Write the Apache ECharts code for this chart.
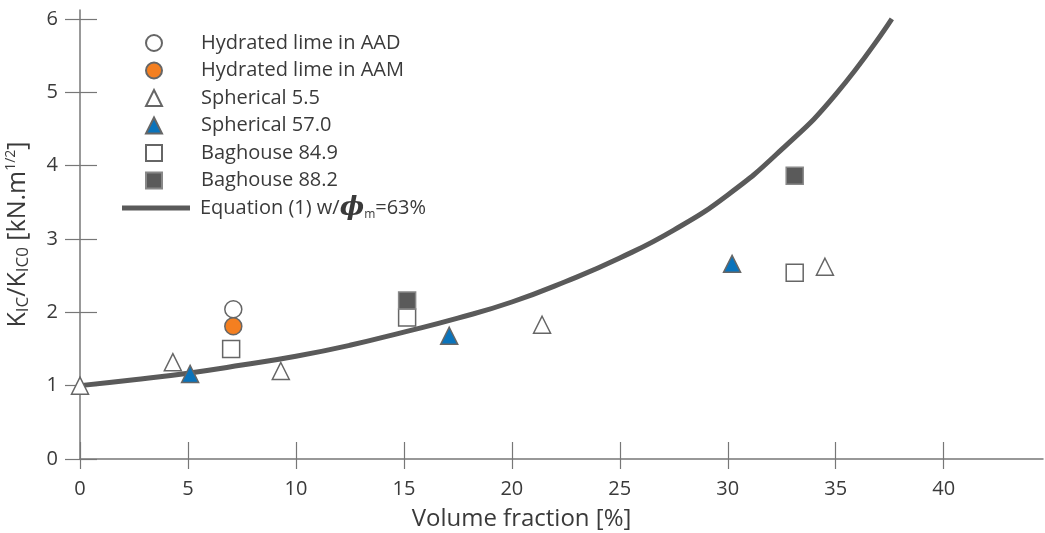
<!DOCTYPE html>
<html>
<head>
<meta charset="utf-8">
<script src="https://cdn.jsdelivr.net/npm/echarts@6/dist/echarts.min.js"></script>
<style>html,body{margin:0;padding:0;background:#fff;}#c{width:1045px;height:533px;}</style>
</head>
<body>
<div id="c"></div>
<script>
// Data: [volume fraction %, KIC/KIC0]
const limeAAD = [[7.1, 2.04]];
const limeAAM = [[7.1, 1.81]];
const spherical55 = [[0, 1.0], [4.3, 1.32], [9.3, 1.2], [21.4, 1.83], [34.5, 2.62]];
const spherical570 = [[5.1, 1.16], [17.1, 1.68], [30.2, 2.66]];
const baghouse849 = [[7.0, 1.5], [15.15, 1.93], [33.1, 2.54]];
const baghouse882 = [[15.15, 2.16], [33.1, 3.86]];
const equationCurve = [[0, 1.0], [2.5, 1.08], [5, 1.17], [7.5, 1.28], [10, 1.40], [12.5, 1.55],
  [15, 1.73], [17.5, 1.92], [20, 2.14], [22.5, 2.42], [25, 2.74], [27.5, 3.12], [30, 3.6],
  [32.5, 4.22], [35, 4.97], [37.6, 6.0]];
const xTicks = [0, 5, 10, 15, 20, 25, 30, 35, 40];
const yTicks = [0, 1, 2, 3, 4, 5, 6];

const FONT = '"Open Sans", "Noto Sans", sans-serif';
const TXT = '#3a3a3a';
const AX = '#777';
const GREY = '#666';

const chart = echarts.init(document.getElementById('c'), null, {renderer: 'canvas'});

function scatter(name, data, symbol, fill, border) {
  return {
    name, type: 'scatter', data, symbol, symbolSize: 17,
    xAxisIndex: 0, yAxisIndex: 0, z: 5,
    itemStyle: {color: fill, borderColor: border, borderWidth: 1.5, opacity: 1},
    emphasis: {disabled: true}
  };
}

const option = {
  animation: false,
  textStyle: {fontFamily: FONT},
  grid: {left: 80, right: 2, top: 10, bottom: 74, containLabel: false, outerBoundsMode: 'none'},
  xAxis: [{
    type: 'value', min: 0, max: 44.6,
    name: 'Volume fraction [%]', nameLocation: 'middle', nameGap: 48,
    nameTextStyle: {fontSize: 24, color: TXT, fontFamily: FONT, padding: [0, 80, 0, 0]},
    axisLine: {show: true, onZero: false, lineStyle: {color: AX, width: 1.5}},
    axisTick: {show: true, inside: false, length: 10, customValues: xTicks, lineStyle: {color: AX, width: 1.2}},
    axisLabel: {fontSize: 20, color: TXT, margin: 20, fontFamily: FONT, customValues: xTicks},
    splitLine: {show: false}
  }, {
    type: 'value', min: 0, max: 44.6, position: 'bottom',
    axisLine: {show: false}, axisLabel: {show: false}, splitLine: {show: false},
    axisTick: {show: true, inside: true, length: 17, customValues: xTicks, lineStyle: {color: AX, width: 1.2}}
  }],
  yAxis: [{
    type: 'value', min: 0, max: 6.12,
    name: '{b|K}{s|IC}{b|/K}{s|IC0}{b| [kN.m}{p|1/2}{b|]}',
    nameLocation: 'middle', nameGap: 48, nameRotate: 90,
    nameTextStyle: {
      color: TXT, fontFamily: FONT,
      rich: {
        b: {fontSize: 25, color: TXT, fontFamily: FONT, lineHeight: 28},
        s: {fontSize: 17, color: TXT, fontFamily: FONT, lineHeight: 17, verticalAlign: 'bottom'},
        p: {fontSize: 14, color: TXT, fontFamily: FONT, lineHeight: 14, verticalAlign: 'top'}
      }
    },
    axisLine: {show: true, onZero: false, lineStyle: {color: AX, width: 1.5}},
    axisTick: {show: true, inside: false, length: 15, customValues: yTicks, lineStyle: {color: AX, width: 1.2}},
    axisLabel: {fontSize: 20, color: TXT, margin: 22, fontFamily: FONT, customValues: yTicks},
    splitLine: {show: false}
  }, {
    type: 'value', min: 0, max: 6.12, position: 'left',
    axisLine: {show: false}, axisLabel: {show: false}, splitLine: {show: false},
    axisTick: {show: true, inside: true, length: 17, customValues: yTicks, lineStyle: {color: AX, width: 1.2}}
  }],
  legend: [{
    orient: 'vertical', left: 145, top: 33, padding: 0, itemWidth: 16, itemHeight: 16, itemGap: 7.5,
    selectedMode: false,
    data: ['Hydrated lime in AAD', 'Hydrated lime in AAM', 'Spherical 5.5', 'Spherical 57.0', 'Baghouse 84.9', 'Baghouse 88.2'],
    textStyle: {fontSize: 20, lineHeight: 20, color: TXT, fontFamily: FONT, padding: [0, 0, 0, 34]}
  }, {
    orient: 'vertical', left: 122, top: 195, padding: 0, itemWidth: 68, itemHeight: 5,
    selectedMode: false,
    data: [{name: 'Equation (1) w/φm=63%', icon: 'rect'}],
    formatter: () => '{t|Equation (1) w/}{f|ϕ}{m|m}{t|=63%}',
    textStyle: {
      fontSize: 20, color: TXT, fontFamily: FONT, padding: [0, 0, 0, 5],
      rich: {
        t: {fontSize: 20, color: TXT, fontFamily: FONT, lineHeight: 26},
        f: {fontSize: 26, color: TXT, fontFamily: '"DejaVu Serif", serif', fontStyle: 'italic', fontWeight: 'bold', lineHeight: 26},
        m: {fontSize: 12, color: TXT, fontFamily: FONT, verticalAlign: 'bottom', lineHeight: 14}
      }
    }
  }],
  series: [
    {
      name: 'Equation (1) w/φm=63%', type: 'line', data: equationCurve, smooth: true,
      symbol: 'none', xAxisIndex: 0, yAxisIndex: 0, z: 2,
      lineStyle: {color: '#5a5a5a', width: 5},
      itemStyle: {color: '#5a5a5a'},
      emphasis: {disabled: true}
    },
    scatter('Hydrated lime in AAD', limeAAD, 'circle', '#ffffff', GREY),
    scatter('Hydrated lime in AAM', limeAAM, 'circle', '#f47f20', GREY),
    scatter('Spherical 5.5', spherical55, 'triangle', '#ffffff', GREY),
    scatter('Spherical 57.0', spherical570, 'triangle', '#0a73bb', GREY),
    scatter('Baghouse 84.9', baghouse849, 'rect', '#ffffff', GREY),
    scatter('Baghouse 88.2', baghouse882, 'rect', '#5a5a5a', '#888')
  ]
};
chart.setOption(option);
</script>
</body>
</html>
